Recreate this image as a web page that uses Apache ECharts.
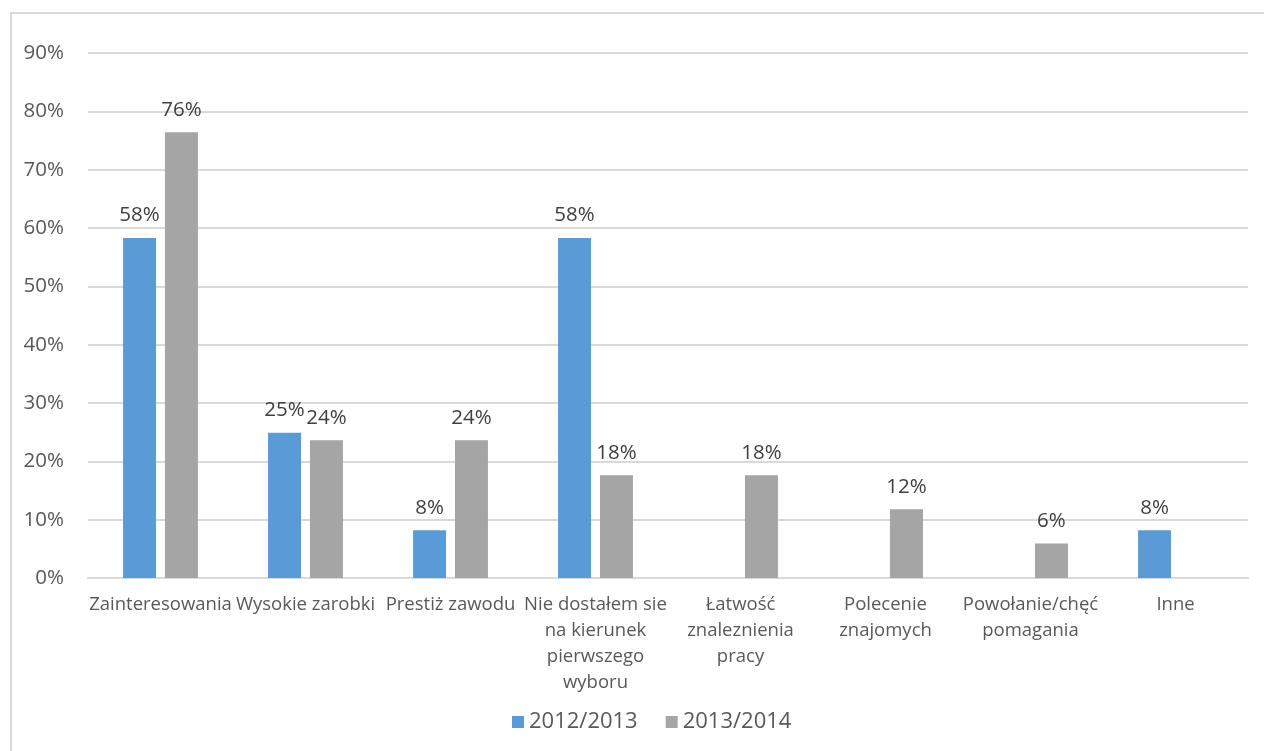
<!DOCTYPE html>
<html>
<head>
<meta charset="utf-8">
<script src="https://cdn.jsdelivr.net/npm/echarts@6/dist/echarts.min.js"></script>
<style>
  html, body { margin: 0; padding: 0; background: #fff; }
  #frame { position: absolute; left: 10px; top: 12px; width: 1270px; height: 760px; border: 2px solid #d9d9d9; box-sizing: border-box; }
  #chart { position: absolute; left: 0; top: 0; width: 1264px; height: 751px; }
</style>
</head>
<body>
<div id="frame"></div>
<div id="chart"></div>
<script>
const categories = [
  'Zainteresowania',
  'Wysokie zarobki',
  'Prestiż zawodu',
  'Nie dostałem sie\nna kierunek\npierwszego\nwyboru',
  'Łatwość\nznaleznienia\npracy',
  'Polecenie\nznajomych',
  'Powołanie/chęć\npomagania',
  'Inne'
];
const seriesNames = ['2012/2013', '2013/2014'];
// wartości w %
const values2012 = [58.3, 24.9, 8.2, 58.3, null, null, null, 8.2];
const values2013 = [76.4, 23.6, 23.6, 17.6, 17.6, 11.8, 5.9, null];

const font = '"Open Sans", "Noto Sans", sans-serif';

const chart = echarts.init(document.getElementById('chart'), null, { renderer: 'canvas' });

const labelStyle = {
  show: true,
  position: 'top',
  distance: 12,
  color: '#404040',
  fontSize: 20.5,
  fontFamily: font,
  formatter: p => (p.value == null ? '' : Math.round(p.value) + '%')
};

chart.setOption({
  animation: false,
  backgroundColor: 'transparent',
  grid: { left: 88, right: 16, top: 53, bottom: 173 },
  legend: {
    data: seriesNames,
    bottom: 13,
    left: 507,
    itemWidth: 12,
    itemHeight: 12,
    itemGap: 28,
    icon: 'rect',
    textStyle: { color: '#595959', fontSize: 22, fontFamily: font }
  },
  xAxis: {
    type: 'category',
    data: categories,
    axisLine: { lineStyle: { color: '#d9d9d9', width: 2 } },
    axisTick: { show: false },
    axisLabel: {
      interval: 0,
      color: '#595959',
      fontSize: 18.5,
      fontFamily: font,
      lineHeight: 26,
      margin: 14
    }
  },
  yAxis: {
    type: 'value',
    min: 0,
    max: 90,
    interval: 10,
    axisLine: { show: false },
    axisTick: { show: false },
    splitLine: { lineStyle: { color: '#d9d9d9', width: 2 } },
    axisLabel: {
      color: '#595959',
      fontSize: 20.5,
      fontFamily: font,
      margin: 24,
      formatter: v => v + '%'
    }
  },
  series: [
    {
      name: seriesNames[0],
      type: 'bar',
      data: values2012,
      barWidth: 33,
      barGap: '27%',
      itemStyle: { color: '#5b9bd5' },
      label: labelStyle
    },
    {
      name: seriesNames[1],
      type: 'bar',
      data: values2013,
      barWidth: 33,
      itemStyle: { color: '#a5a5a5' },
      label: labelStyle
    }
  ]
});
</script>
</body>
</html>
